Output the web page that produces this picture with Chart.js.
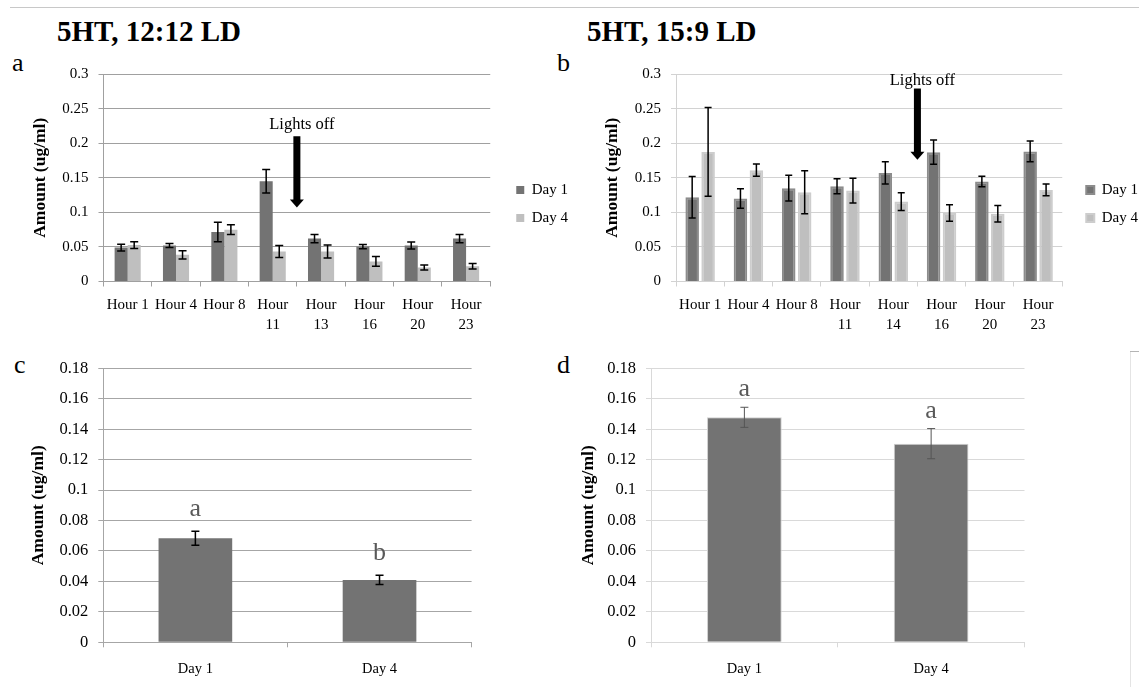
<!DOCTYPE html>
<html>
<head>
<meta charset="utf-8">
<title>5HT, 12:12 LD / 15:9 LD</title>
<script src="https://cdn.jsdelivr.net/npm/chart.js@4.4.1/dist/chart.umd.min.js"></script>
<style>
  html, body { margin: 0; padding: 0; background: #fff; width: 1139px; height: 687px; overflow: hidden; }
  body { position: relative; font-family: 'Liberation Serif', 'Times New Roman', serif; color: #000; }
  canvas { position: absolute; }
  .title { position: absolute; font-weight: bold; font-size: 29px; line-height: 29px; white-space: nowrap; }
  .tag { position: absolute; font-size: 26px; line-height: 26px; }
  #topRule { position: absolute; left: 10px; right: 0; top: 7px; height: 1px; background: #c8c8c8; }
  #sideRule { position: absolute; left: 1130px; top: 351px; bottom: 0; width: 1px; background: #e4e4e4; }
  #sideTick { position: absolute; left: 1130px; top: 351px; width: 9px; height: 1px; background: #b4b4b4; }
</style>
</head>
<body>
<div id="topRule"></div>
<div id="sideRule"></div>
<div id="sideTick"></div>

<div class="title" style="left:57px;top:17px">5HT, 12:12 LD</div>
<div class="title" style="left:587px;top:17px">5HT, 15:9 LD</div>
<div class="tag" style="left:12px;top:50px">a</div>
<div class="tag" style="left:557px;top:50px">b</div>
<div class="tag" style="left:14px;top:352px">c</div>
<div class="tag" style="left:557px;top:352px">d</div>

<canvas id="chartA" width="578" height="320" style="left:0;top:40px"></canvas>
<canvas id="chartB" width="578" height="320" style="left:570px;top:40px"></canvas>
<canvas id="chartC" width="570" height="347" style="left:0;top:340px"></canvas>
<canvas id="chartD" width="569" height="347" style="left:570px;top:340px"></canvas>

<script>
// Datos (medias y error estándar)
const seriesNames = ['Day 1', 'Day 4'];

// a) 12:12 LD
const hoursA = ['Hour 1', 'Hour 4', 'Hour 8', ['Hour', '11'], ['Hour', '13'], ['Hour', '16'], ['Hour', '20'], ['Hour', '23']];
const day1A = [0.049, 0.052, 0.0715, 0.145, 0.062, 0.0505, 0.052, 0.062];
const day1ErrA = [0.005, 0.003, 0.014, 0.017, 0.006, 0.003, 0.005, 0.006];
const day4A = [0.0526, 0.0386, 0.075, 0.0435, 0.0435, 0.029, 0.0203, 0.022];
const day4ErrA = [0.005, 0.006, 0.007, 0.0087, 0.0094, 0.007, 0.0036, 0.004];

// b) 15:9 LD
const hoursB = ['Hour 1', 'Hour 4', 'Hour 8', ['Hour', '11'], ['Hour', '14'], ['Hour', '16'], ['Hour', '20'], ['Hour', '23']];
const day1B = [0.1217, 0.12, 0.135, 0.1377, 0.157, 0.187, 0.1445, 0.188];
const day1ErrB = [0.03, 0.014, 0.0186, 0.011, 0.016, 0.0176, 0.0075, 0.015];
const day4B = [0.1874, 0.161, 0.129, 0.1314, 0.1155, 0.099, 0.098, 0.1323];
const day4ErrB = [0.064, 0.009, 0.031, 0.018, 0.0128, 0.012, 0.012, 0.0085];

// c) y d) promedios por día
const dayLabels = ['Day 1', 'Day 4'];
const meanC = [0.0683, 0.041];
const errC = [0.0046, 0.003];
const lettersC = ['a', 'b'];
const meanD = [0.1478, 0.1305];
const errD = [0.0066, 0.0099];
const lettersD = ['a', 'a'];

// Marcas de los ejes
const yTicksTop = [0, 0.05, 0.1, 0.15, 0.2, 0.25, 0.3];
const yTicksBottom = [0, 0.02, 0.04, 0.06, 0.08, 0.1, 0.12, 0.14, 0.16, 0.18];

const SERIF = "'Liberation Serif', 'Times New Roman', serif";
const DARK = '#737373';
const LIGHT = '#bfbfbf';

// Barras de error dibujadas sobre cada barra
const errorBarsPlugin = {
  id: 'errorBars',
  afterDatasetsDraw(chart, args, opts) {
    const { ctx, scales: { y } } = chart;
    chart.data.datasets.forEach((ds, i) => {
      if (!ds.errors) return;
      const meta = chart.getDatasetMeta(i);
      ctx.save();
      ctx.strokeStyle = opts.color || '#000';
      ctx.lineWidth = opts.width || 1.5;
      meta.data.forEach((bar, j) => {
        const v = ds.data[j];
        const e = ds.errors[j];
        const top = y.getPixelForValue(v + e);
        const bot = y.getPixelForValue(v - e);
        const cx = bar.x;
        const cap = opts.cap || 4;
        ctx.beginPath();
        ctx.moveTo(cx, top); ctx.lineTo(cx, bot);
        ctx.moveTo(cx - cap, top); ctx.lineTo(cx + cap, top);
        ctx.moveTo(cx - cap, bot); ctx.lineTo(cx + cap, bot);
        ctx.stroke();
      });
      ctx.restore();
    });
  }
};

// Flecha "Lights off"
const lightsOffPlugin = {
  id: 'lightsOff',
  afterDraw(chart, args, opts) {
    if (!opts || opts.at === undefined) return;
    const { ctx, scales: { x, y } } = chart;
    const ax = x.getPixelForValue(opts.at);
    const top = y.getPixelForValue(opts.from);
    const tip = y.getPixelForValue(opts.to);
    ctx.save();
    ctx.fillStyle = '#000';
    ctx.fillRect(ax - 3.5, top, 7, tip - top - 7);
    ctx.beginPath();
    ctx.moveTo(ax - 7, tip - 8);
    ctx.lineTo(ax + 7, tip - 8);
    ctx.lineTo(ax, tip);
    ctx.closePath();
    ctx.fill();
    ctx.font = '16.5px ' + SERIF;
    ctx.textAlign = 'center';
    ctx.textBaseline = 'middle';
    ctx.fillText(opts.text, ax + 5, y.getPixelForValue(opts.textAt));
    ctx.restore();
  }
};

// Letras de significancia encima de las barras
const lettersPlugin = {
  id: 'letters',
  afterDatasetsDraw(chart, args, opts) {
    if (!opts || !opts.labels) return;
    const { ctx, scales: { y } } = chart;
    const ds = chart.data.datasets[0];
    const meta = chart.getDatasetMeta(0);
    ctx.save();
    ctx.fillStyle = opts.color || '#595959';
    ctx.font = '26px ' + SERIF;
    ctx.textAlign = 'center';
    ctx.textBaseline = 'alphabetic';
    meta.data.forEach((bar, j) => {
      const yTop = y.getPixelForValue(ds.data[j] + ds.errors[j]);
      ctx.fillText(opts.labels[j], bar.x, yTop - opts.gap);
    });
    ctx.restore();
  }
};

function yAxis(ticks, width, titlePad, lineColor, tickSize) {
  return {
    min: ticks[0],
    max: ticks[ticks.length - 1],
    afterBuildTicks: s => { s.ticks = ticks.map(v => ({ value: v })); },
    afterFit: s => { s.width = width; },
    grid: { color: lineColor, lineWidth: 1, tickLength: 5 },
    border: { color: lineColor, width: 1 },
    ticks: {
      padding: 10,
      color: '#000',
      font: { family: SERIF, size: tickSize },
      callback: v => String(v)
    },
    title: {
      display: true,
      text: 'Amount (ug/ml)',
      color: '#000',
      font: { family: SERIF, size: 17.5, weight: 'bold' },
      padding: { top: titlePad, bottom: 0 }
    }
  };
}

function xAxis(height, lineColor, fontSize, pad) {
  return {
    afterFit: s => { s.height = height; },
    grid: { display: true, drawOnChartArea: false, offset: true, color: lineColor, tickLength: 5 },
    border: { color: lineColor, width: 1 },
    ticks: {
      padding: pad,
      color: '#000',
      maxRotation: 0,
      minRotation: 0,
      autoSkip: false,
      font: { family: SERIF, size: fontSize, lineHeight: 1.33 }
    }
  };
}

// eje vacío a la derecha: separa la leyenda del área de datos
function legendGap(width) {
  return {
    type: 'linear',
    position: 'right',
    display: true,
    grid: { display: false, drawTicks: false },
    border: { display: false },
    ticks: { display: false },
    afterFit: s => { s.width = width; }
  };
}

function hourlyChart(id, cfg) {
  return new Chart(document.getElementById(id), {
    type: 'bar',
    data: {
      labels: cfg.labels,
      datasets: [
        {
          label: seriesNames[0], data: cfg.day1, errors: cfg.err1,
          backgroundColor: DARK, borderColor: cfg.border1 || DARK, borderWidth: cfg.borderWidth || 0,
          categoryPercentage: cfg.catPct, barPercentage: cfg.barPct
        },
        {
          label: seriesNames[1], data: cfg.day4, errors: cfg.err4,
          backgroundColor: LIGHT, borderColor: cfg.border4 || LIGHT, borderWidth: cfg.borderWidth || 0,
          categoryPercentage: cfg.catPct, barPercentage: cfg.barPct
        }
      ]
    },
    options: {
      responsive: false,
      maintainAspectRatio: false,
      animation: false,
      devicePixelRatio: 1,
      layout: { padding: { top: 34, bottom: 26, left: 0, right: 0 } },
      scales: {
        x: xAxis(cfg.xHeight, cfg.lineColor, 15, 9),
        y: yAxis(yTicksTop, cfg.yWidth, cfg.titlePad, cfg.lineColor, 15),
        gap: legendGap(cfg.gap)
      },
      plugins: {
        legend: {
          position: 'right',
          align: 'center',
          labels: {
            boxWidth: 8, boxHeight: 8, padding: 13,
            color: '#000',
            font: { family: SERIF, size: 15 }
          }
        },
        tooltip: { enabled: false },
        errorBars: { color: '#000', width: 1.5, cap: cfg.cap },
        lightsOff: cfg.lights
      }
    },
    plugins: [errorBarsPlugin, lightsOffPlugin]
  });
}

function dayChart(id, cfg) {
  return new Chart(document.getElementById(id), {
    type: 'bar',
    data: {
      labels: dayLabels,
      datasets: [{
        label: 'Mean', data: cfg.mean, errors: cfg.err,
        backgroundColor: DARK, borderColor: cfg.border || DARK, borderWidth: cfg.borderWidth || 0,
        categoryPercentage: 0.4, barPercentage: 1
      }]
    },
    options: {
      responsive: false,
      maintainAspectRatio: false,
      animation: false,
      devicePixelRatio: 1,
      layout: { padding: { top: 28.3, bottom: 0, left: 0, right: cfg.padRight } },
      scales: {
        x: xAxis(44.7, cfg.lineColor, 14.5, 12),
        y: yAxis(yTicksBottom, cfg.yWidth, cfg.titlePad, cfg.lineColor, 16.5)
      },
      plugins: {
        legend: { display: false },
        tooltip: { enabled: false },
        errorBars: { color: cfg.errColor, width: cfg.errWidth, cap: 4 },
        letters: { labels: cfg.letters, gap: cfg.letterGap, color: '#595959' }
      }
    },
    plugins: [errorBarsPlugin, lettersPlugin]
  });
}

document.addEventListener('DOMContentLoaded', () => {
  hourlyChart('chartA', {
    labels: hoursA, day1: day1A, err1: day1ErrA, day4: day4A, err4: day4ErrA,
    catPct: 0.54, barPct: 1, cap: 4,
    lineColor: '#a0a0a0', yWidth: 103.5, titlePad: 30, xHeight: 52.5, gap: 13,
    lights: { at: 3.5, from: 0.21, to: 0.107, text: 'Lights off', textAt: 0.227 }
  });

  hourlyChart('chartB', {
    labels: hoursB, day1: day1B, err1: day1ErrB, day4: day4B, err4: day4ErrB,
    catPct: 0.66, barPct: 0.85, cap: 3.5,
    border1: '#8c8c8c', border4: '#cdcdcd', borderWidth: 2,
    lineColor: '#d2d2d2', yWidth: 106, titlePad: 32, xHeight: 52.5, gap: 11,
    lights: { at: 4.5, from: 0.279, to: 0.176, text: 'Lights off', textAt: 0.29 }
  });

  dayChart('chartC', {
    mean: meanC, err: errC, letters: lettersC, letterGap: 15,
    lineColor: '#a6a6a6', yWidth: 103.3, titlePad: 28, padRight: 98.4,
    errColor: '#000', errWidth: 1.5
  });

  dayChart('chartD', {
    mean: meanD, err: errD, letters: lettersD, letterGap: 11,
    border: '#d0d0d0', borderWidth: 1,
    lineColor: '#d9d9d9', yWidth: 81, titlePad: 8, padRight: 114.5,
    errColor: '#555', errWidth: 1
  });
});
</script>
</body>
</html>
